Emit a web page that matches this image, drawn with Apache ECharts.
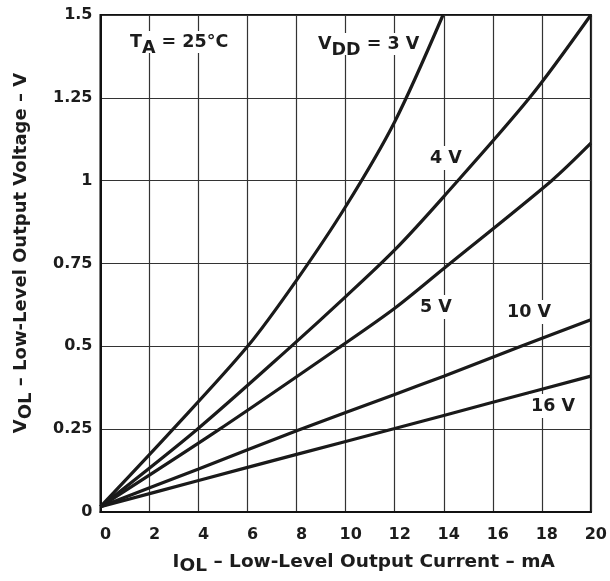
<!DOCTYPE html>
<html>
<head>
<meta charset="utf-8">
<script src="https://cdn.jsdelivr.net/npm/echarts@6/dist/echarts.min.js"></script>
<style>
html,body{margin:0;padding:0;background:#fff;}
#chart{width:610px;height:581px;}
</style>
</head>
<body>
<div id="chart"></div>
<script>
// ---- data ----
const xTicks = [0, 2, 4, 6, 8, 10, 12, 14, 16, 18, 20];
const yTicks = [0, 0.25, 0.5, 0.75, 1, 1.25, 1.5];

const current3V  = [0, 2.96, 6.0, 8.0, 10.0, 12.0, 13.97];
const vol3V      = [0.016, 0.25, 0.5, 0.70, 0.922, 1.178, 1.5];

const current4V  = [0, 3.95, 7.78, 10, 12, 14, 17.5, 20];
const vol4V      = [0.016, 0.25, 0.5, 0.65, 0.791, 0.952, 1.25, 1.5];

const current5V  = [0, 4.86, 9.8, 12, 14, 18.4, 20];
const vol5V      = [0.016, 0.25, 0.5, 0.615, 0.735, 1.0, 1.113];

const current10V = [0, 4, 8, 12, 14, 17.15, 20];
const vol10V     = [0.016, 0.13, 0.245, 0.355, 0.41, 0.5, 0.58];

const current16V = [0, 4, 8, 12, 16, 20];
const vol16V     = [0.016, 0.095, 0.174, 0.252, 0.331, 0.41];

const seriesNames = ['VDD = 3 V', '4 V', '5 V', '10 V', '16 V'];

// ---- chart ----
const FONT = '"DejaVu Sans", "Liberation Sans", sans-serif';
const INK = '#1c1c1c';
const pairs = (xs, ys) => xs.map((x, i) => [x, ys[i]]);

const curves = [
  pairs(current3V, vol3V),
  pairs(current4V, vol4V),
  pairs(current5V, vol5V),
  pairs(current10V, vol10V),
  pairs(current16V, vol16V)
];

const xNameRich = {
  m: {fontFamily: FONT, fontWeight: 'bold', fontSize: 18.5, lineHeight: 22, color: INK},
  s: {fontFamily: FONT, fontWeight: 'bold', fontSize: 18.5, lineHeight: 22, color: INK, padding: [9, 0, 0, 0]}
};
const yNameRich = {
  m: {fontFamily: FONT, fontWeight: 'bold', fontSize: 18, lineHeight: 22, color: INK},
  s: {fontFamily: FONT, fontWeight: 'bold', fontSize: 18, lineHeight: 22, color: INK, padding: [9, 0, 0, 0]}
};
const labelRich = {
  m: {fontFamily: FONT, fontWeight: 'bold', fontSize: 17.5, lineHeight: 20, fill: INK, color: INK},
  s: {fontFamily: FONT, fontWeight: 'bold', fontSize: 17.5, lineHeight: 20, fill: INK, color: INK, padding: [12, 0, 0, 0]}
};

function plainLabel(text, x, y) {
  return {
    type: 'text', x: x, y: y, z: 50,
    style: {
      text: text, fill: INK,
      font: 'bold 17.5px ' + FONT,
      align: 'center', verticalAlign: 'middle',
      backgroundColor: '#fff', padding: [3, 2, 3, 2]
    }
  };
}

const chart = echarts.init(document.getElementById('chart'), null, {renderer: 'canvas'});
chart.setOption({
  animation: false,
  backgroundColor: '#fff',
  grid: {
    left: 100, right: 17, top: 15, bottom: 69,
    show: true, borderColor: '#111', borderWidth: 2, backgroundColor: 'transparent'
  },
  xAxis: {
    type: 'value', min: xTicks[0], max: xTicks[xTicks.length - 1], interval: 2,
    axisLine: {show: true, onZero: false, lineStyle: {color: '#111', width: 2}},
    axisTick: {show: false},
    splitLine: {show: true, lineStyle: {color: '#333', width: 1.2}},
    axisLabel: {
      margin: 15, fontFamily: FONT, fontWeight: 'bold', fontSize: 16, color: INK,
      padding: [0, 0, 0, 10],
      customValues: xTicks
    },
    name: '{m|I}{s|OL}{m| – Low-Level Output Current – mA}',
    nameLocation: 'middle', nameGap: 35,
    nameTextStyle: {rich: xNameRich, padding: [0, 0, 0, 36]}
  },
  yAxis: {
    type: 'value', min: yTicks[0], max: yTicks[yTicks.length - 1], interval: 0.25,
    axisLine: {show: true, onZero: false, lineStyle: {color: '#111', width: 2}},
    axisTick: {show: false},
    splitLine: {show: true, lineStyle: {color: '#333', width: 1.2}},
    axisLabel: {
      margin: 8, fontFamily: FONT, fontWeight: 'bold', fontSize: 16, color: INK,
      formatter: v => String(v)
    },
    name: '{m|V}{s|OL}{m| – Low-Level Output Voltage – V}',
    nameLocation: 'middle', nameGap: 68,
    nameTextStyle: {rich: yNameRich, padding: [0, 0, 0, 21]}
  },
  series: curves.map((d, i) => ({
    name: seriesNames[i],
    type: 'line',
    data: d,
    smooth: 0.3,
    symbol: 'none',
    clip: true,
    lineStyle: {color: '#1a1a1a', width: 3.2},
    z: 5
  })),
  graphic: [
    {
      type: 'text', x: 128, y: 31, z: 50,
      style: {
        text: '{m|T}{s|A}{m| = 25°C}',
        rich: labelRich,
        font: 'bold 17.5px ' + FONT, fill: INK,
        align: 'left', verticalAlign: 'top',
        backgroundColor: '#fff', padding: [1, 2, 1, 2]
      }
    },
    {
      type: 'text', x: 316, y: 33, z: 50,
      style: {
        text: '{m|V}{s|DD}{m| = 3 V}',
        rich: labelRich,
        font: 'bold 17.5px ' + FONT, fill: INK,
        align: 'left', verticalAlign: 'top',
        backgroundColor: '#fff', padding: [1, 2, 1, 2]
      }
    },
    plainLabel('4 V', 446, 158),
    plainLabel('5 V', 436, 307),
    plainLabel('10 V', 529, 312),
    plainLabel('16 V', 553, 406)
  ]
});
</script>
</body>
</html>
